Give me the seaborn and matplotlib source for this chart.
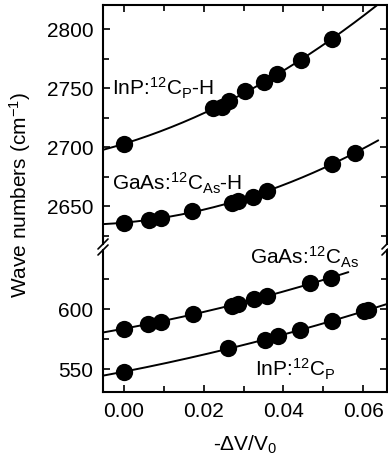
import numpy as np
import pandas as pd
import matplotlib
matplotlib.use("Agg")
import matplotlib.pyplot as plt
import seaborn as sns
from matplotlib.ticker import MultipleLocator

# ---------------- data ----------------
inp_ch_x = [0.0, 0.0224, 0.0245, 0.0264, 0.0304, 0.0351, 0.0385, 0.0444, 0.0521]
inp_ch_y = [2703, 2733, 2734.5, 2739.5, 2748, 2755, 2762, 2774, 2792]

gaas_ch_x = [0.0, 0.0063, 0.0092, 0.0170, 0.0272, 0.0285, 0.0323, 0.0358, 0.0521, 0.0580]
gaas_ch_y = [2636, 2638, 2639.5, 2646, 2653, 2654.5, 2658, 2663, 2686, 2695]

gaas_c_x = [0.0, 0.0061, 0.0092, 0.0172, 0.0272, 0.0285, 0.0326, 0.0358, 0.0467, 0.0519]
gaas_c_y = [584, 587.7, 589.7, 596, 603, 604.5, 608.6, 611, 621.7, 626]

inp_c_x = [0.0, 0.0262, 0.0354, 0.0387, 0.0442, 0.0523, 0.0603, 0.0613]
inp_c_y = [548, 567.5, 574.4, 578, 582.7, 590.5, 598.5, 599.5]

# extent of each fitted curve along x
fit_range = {
    "inp_ch": (-0.0053, 0.066),
    "gaas_ch": (-0.0053, 0.0638),
    "gaas_c": (-0.0053, 0.0563),
    "inp_c": (-0.0053, 0.066),
}

x_ticks = [0.00, 0.02, 0.04, 0.06]
upper_ticks = [2650, 2700, 2750, 2800]
lower_ticks = [550, 600]

# ---------------- style ----------------
sns.set_style("white")
plt.rcParams["font.family"] = ["Liberation Sans", "DejaVu Sans"]
plt.rcParams["mathtext.fontset"] = "custom"
plt.rcParams["mathtext.rm"] = "Liberation Sans"
plt.rcParams["mathtext.it"] = "Liberation Sans"
plt.rcParams["font.size"] = 15
for k in ("text.color", "axes.labelcolor", "xtick.color", "ytick.color",
          "axes.edgecolor"):
    plt.rcParams[k] = "black"

W, H = 388, 466
fig = plt.figure(figsize=(W / 100, H / 100), dpi=100)

left, right = 103 / W, 387 / W
ax_up = fig.add_axes([left, (H - 244) / H, right - left, (244 - 5) / H])
ax_lo = fig.add_axes([left, (H - 392) / H, right - left, (392 - 250) / H])

xlim = (-0.00527, 0.066)


def draw(ax, x, y, key):
    df = pd.DataFrame({"x": x, "y": y})
    coef = np.polyfit(df["x"], df["y"], 2)
    x0, x1 = fit_range[key]
    xs = np.linspace(x0, x1, 200)
    fit = pd.DataFrame({"x": xs, "y": np.polyval(coef, xs)})
    sns.lineplot(data=fit, x="x", y="y", ax=ax, color="black", lw=1.4, zorder=2)
    sns.scatterplot(data=df, x="x", y="y", ax=ax, color="black", s=155,
                    linewidth=0, zorder=3)


draw(ax_up, inp_ch_x, inp_ch_y, "inp_ch")
draw(ax_up, gaas_ch_x, gaas_ch_y, "gaas_ch")
draw(ax_lo, gaas_c_x, gaas_c_y, "gaas_c")
draw(ax_lo, inp_c_x, inp_c_y, "inp_c")

ax_up.set_ylim(2617.8, 2820.8)
ax_lo.set_ylim(531.1, 649.4)

for ax in (ax_up, ax_lo):
    ax.set_xlim(*xlim)
    ax.set_xlabel("")
    ax.set_ylabel("")
    ax.xaxis.set_major_locator(MultipleLocator(0.02))
    ax.xaxis.set_minor_locator(MultipleLocator(0.01))
    ax.yaxis.set_minor_locator(MultipleLocator(25))
    for s in ax.spines.values():
        s.set_linewidth(1.5)
        s.set_color("black")
    ax.tick_params(which="both", direction="in", color="black", width=1.2,
                   left=True, right=True, labelsize=15, pad=7,
                   labelcolor="black")
    ax.tick_params(which="major", length=5)
    ax.tick_params(which="minor", length=4.5)

ax_up.set_yticks(upper_ticks)
ax_lo.set_yticks(lower_ticks)
ax_lo.set_xticks(x_ticks)
ax_lo.set_xticklabels([f"{v:.2f}" for v in x_ticks])

ax_up.spines["bottom"].set_visible(False)
ax_lo.spines["top"].set_visible(False)
ax_up.tick_params(which="both", top=True, bottom=False, labelbottom=False)
ax_lo.tick_params(which="both", top=False, bottom=True)

# break marks on both spines
dx, dy = 5 / (right - left) / W, 5
kw = dict(color="black", lw=1.2, clip_on=False)
for ax, yp in ((ax_up, 0.0), (ax_lo, 1.0)):
    hgt = ax.get_position().height * H
    d = dy / hgt
    for xp in (0.0, 1.0):
        ax.plot([xp - dx, xp + dx], [yp - d, yp + d], transform=ax.transAxes, **kw)

# annotations
ax_up.text(0.03, 2750, r"InP:$\mathregular{^{12}C_P}$-H", ha="left",
           va="center", fontsize=15, transform=ax_up.get_yaxis_transform())
ax_up.text(0.03, 2663.5, r"GaAs:$\mathregular{^{12}C_{As}}$-H", ha="left",
           va="baseline", fontsize=15, transform=ax_up.get_yaxis_transform())
ax_lo.text(0.518, 637.7, r"GaAs:$\mathregular{^{12}C_{As}}$", ha="left",
           va="baseline", fontsize=15, transform=ax_lo.get_yaxis_transform())
ax_lo.text(0.535, 543.6, r"InP:$\mathregular{^{12}C_P}$", ha="left",
           va="baseline", fontsize=15, transform=ax_lo.get_yaxis_transform())

fig.text(20 / W, 1 - 195 / H, r"Wave numbers (cm$\mathregular{^{-1}}$)",
         rotation=90, ha="center", va="center", fontsize=15)
fig.text(245 / W, 1 - 445 / H, r"-ΔV/V$\mathregular{_0}$", ha="center",
         va="center", fontsize=15)

fig.savefig("out.png", dpi=100)
